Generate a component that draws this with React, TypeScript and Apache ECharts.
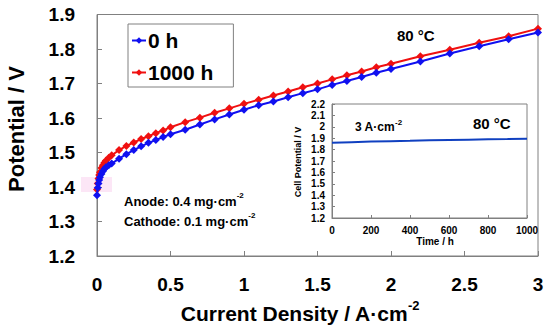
import React, { useEffect, useRef } from "react";
import * as echarts from "echarts";

const currentDensity = [
  0, 0.005, 0.01, 0.015, 0.02, 0.03, 0.04, 0.05, 0.06, 0.08, 0.1, 0.15, 0.2, 0.25, 0.3, 0.35, 0.4,
  0.45, 0.5, 0.6, 0.7, 0.8, 0.9, 1.0, 1.1, 1.2, 1.3, 1.4, 1.5, 1.6, 1.7, 1.8, 1.9, 2.0, 2.2, 2.4,
  2.6, 2.8, 3.0,
];
const potential0h = [
  1.376, 1.398, 1.41, 1.42, 1.428, 1.438, 1.446, 1.452, 1.457, 1.463, 1.468, 1.482, 1.495, 1.507,
  1.518, 1.528, 1.536, 1.545, 1.553, 1.566, 1.581, 1.596, 1.61, 1.624, 1.637, 1.648, 1.66, 1.672,
  1.683, 1.696, 1.707, 1.719, 1.731, 1.742, 1.764, 1.787, 1.808, 1.828, 1.848,
];
const potential1000h = [
  1.393, 1.41, 1.425, 1.435, 1.443, 1.455, 1.463, 1.47, 1.476, 1.485, 1.492, 1.507, 1.519, 1.529,
  1.539, 1.547, 1.556, 1.564, 1.573, 1.588, 1.601, 1.615, 1.628, 1.641, 1.653, 1.665, 1.677, 1.689,
  1.7, 1.712, 1.724, 1.735, 1.747, 1.757, 1.779, 1.798, 1.818, 1.837, 1.859,
];
const insetTime = [0, 100, 200, 300, 400, 500, 600, 700, 800, 900, 1000];
const insetPotential = [1.86, 1.865, 1.87, 1.874, 1.877, 1.881, 1.884, 1.887, 1.89, 1.892, 1.895];

const FONT = "Liberation Sans, Arial, sans-serif";
const GRAY = "#808080";

const supRich = (size: number, raise: number) => ({
  sup: { fontSize: size, fontWeight: "bold", fontFamily: FONT, verticalAlign: "top", padding: [0, 0, raise, 0] },
});

export default function App() {
  const ref = useRef<HTMLDivElement>(null);
  useEffect(() => {
    if (!ref.current) return;
    const chart = echarts.init(ref.current, undefined, { renderer: "svg" });
    const zip = (xs: number[], ys: number[]) => xs.map((x, i) => [x, ys[i]]);
    const axisCommon = {
      axisLine: { show: true, lineStyle: { color: GRAY, width: 1 } },
      axisTick: { show: true, inside: true, length: 5, lineStyle: { color: GRAY } },
      splitLine: { show: false },
    };
    const fmt1 = (v: number) => String(Math.round(v * 10) / 10);
    chart.setOption({
      animation: false,
      backgroundColor: "#fff",
      textStyle: { fontFamily: FONT },
      grid: [
        { left: 97, right: 12, top: 14.5, bottom: 77, show: true, borderColor: GRAY, borderWidth: 1, backgroundColor: "transparent" },
        { left: 332, right: 23, top: 104, bottom: 115, show: true, borderColor: GRAY, borderWidth: 1, backgroundColor: "#fff", z: 3 },
      ],
      legend: {
        orient: "vertical",
        left: 128,
        top: 24,
        padding: [6, 20, 4, 3],
        itemGap: 11,
        itemWidth: 14,
        itemHeight: 8,
        backgroundColor: "#fff",
        borderColor: GRAY,
        borderWidth: 1,
        textStyle: { fontSize: 21, fontWeight: "bold", color: "#000", fontFamily: FONT, padding: [0, 0, 0, -3] },
        data: ["0 h", "1000 h"],
      },
      xAxis: [
        {
          gridIndex: 0, type: "value", min: 0, max: 3, interval: 0.5, ...axisCommon,
          axisLabel: { fontSize: 19, fontWeight: "bold", color: "#000", margin: 19, fontFamily: FONT, formatter: fmt1 },
        },
        {
          gridIndex: 1, type: "value", min: 0, max: 1000, interval: 200, ...axisCommon,
          axisTick: { show: true, inside: true, length: 3, lineStyle: { color: GRAY } },
          axisLabel: { fontSize: 10, fontWeight: "bold", color: "#000", margin: 7, fontFamily: FONT, formatter: (v: number) => String(v) },
          z: 4,
        },
      ],
      yAxis: [
        {
          gridIndex: 0, type: "value", min: 1.2, max: 1.9, interval: 0.1, ...axisCommon,
          axisLabel: { fontSize: 19, fontWeight: "bold", color: "#000", margin: 22, fontFamily: FONT, formatter: fmt1 },
        },
        {
          gridIndex: 1, type: "value", min: 1.2, max: 2.2, interval: 0.1, ...axisCommon,
          axisTick: { show: true, inside: true, length: 3, lineStyle: { color: GRAY } },
          axisLabel: { fontSize: 10, fontWeight: "bold", color: "#000", margin: 7, fontFamily: FONT, formatter: fmt1 },
          z: 4,
        },
      ],
      series: [
        {
          name: "0 h", type: "line", xAxisIndex: 0, yAxisIndex: 0, data: zip(currentDensity, potential0h),
          symbol: "diamond", symbolSize: 8, color: "#1010f0",
          lineStyle: { width: 2, color: "#1010f0" }, itemStyle: { color: "#1010f0" }, z: 3,
        },
        {
          name: "1000 h", type: "line", xAxisIndex: 0, yAxisIndex: 0, data: zip(currentDensity, potential1000h),
          symbol: "diamond", symbolSize: 8, color: "#f01010",
          lineStyle: { width: 2, color: "#f01010" }, itemStyle: { color: "#f01010" }, z: 2,
        },
        {
          name: "inset", type: "line", xAxisIndex: 1, yAxisIndex: 1, data: zip(insetTime, insetPotential),
          showSymbol: false, lineStyle: { width: 2, color: "#1040c0" }, z: 5,
        },
      ],
      graphic: [
        { type: "rect", shape: { x: 81, y: 177, width: 31, height: 15 }, style: { fill: "#fce6f6" }, z: 0 },
        {
          type: "text", x: 16, y: 129, rotation: Math.PI / 2, z: 10,
          style: { text: "Potential / V", font: `bold 22px ${FONT}`, fill: "#000", align: "center", verticalAlign: "middle" },
        },
        {
          type: "text", x: 300, y: 313, z: 10,
          style: {
            text: "Current Density / A·cm{sup|-2}", font: `bold 21px ${FONT}`, fill: "#000", align: "center", verticalAlign: "middle",
            rich: supRich(13, 16),
          },
        },
        { type: "text", x: 397, y: 35, z: 10, style: { text: "80 °C", font: `bold 15px ${FONT}`, fill: "#000", verticalAlign: "middle" } },
        {
          type: "text", x: 124, y: 201, z: 10,
          style: { text: "Anode: 0.4 mg·cm{sup|-2}", font: `bold 13px ${FONT}`, fill: "#000", verticalAlign: "middle", rich: supRich(8, 11) },
        },
        {
          type: "text", x: 124, y: 221, z: 10,
          style: { text: "Cathode: 0.1 mg·cm{sup|-2}", font: `bold 13px ${FONT}`, fill: "#000", verticalAlign: "middle", rich: supRich(8, 11) },
        },
        { type: "text", x: 473, y: 123, z: 10, style: { text: "80 °C", font: `bold 15px ${FONT}`, fill: "#000", verticalAlign: "middle" } },
        {
          type: "text", x: 355, y: 127, z: 10,
          style: { text: "3 A·cm{sup|-2}", font: `bold 12px ${FONT}`, fill: "#000", verticalAlign: "middle", rich: supRich(8, 10) },
        },
        {
          type: "text", x: 298, y: 162, rotation: Math.PI / 2, z: 10,
          style: { text: "Cell Potential / V", font: `bold 9px ${FONT}`, fill: "#000", align: "center", verticalAlign: "middle" },
        },
        { type: "text", x: 435, y: 241, z: 10, style: { text: "Time / h", font: `bold 10px ${FONT}`, fill: "#000", align: "center", verticalAlign: "middle" } },
      ],
    });
    return () => chart.dispose();
  }, []);
  return <div ref={ref} style={{ width: 550, height: 333, position: "absolute", left: 0, top: 0 }} />;
}
